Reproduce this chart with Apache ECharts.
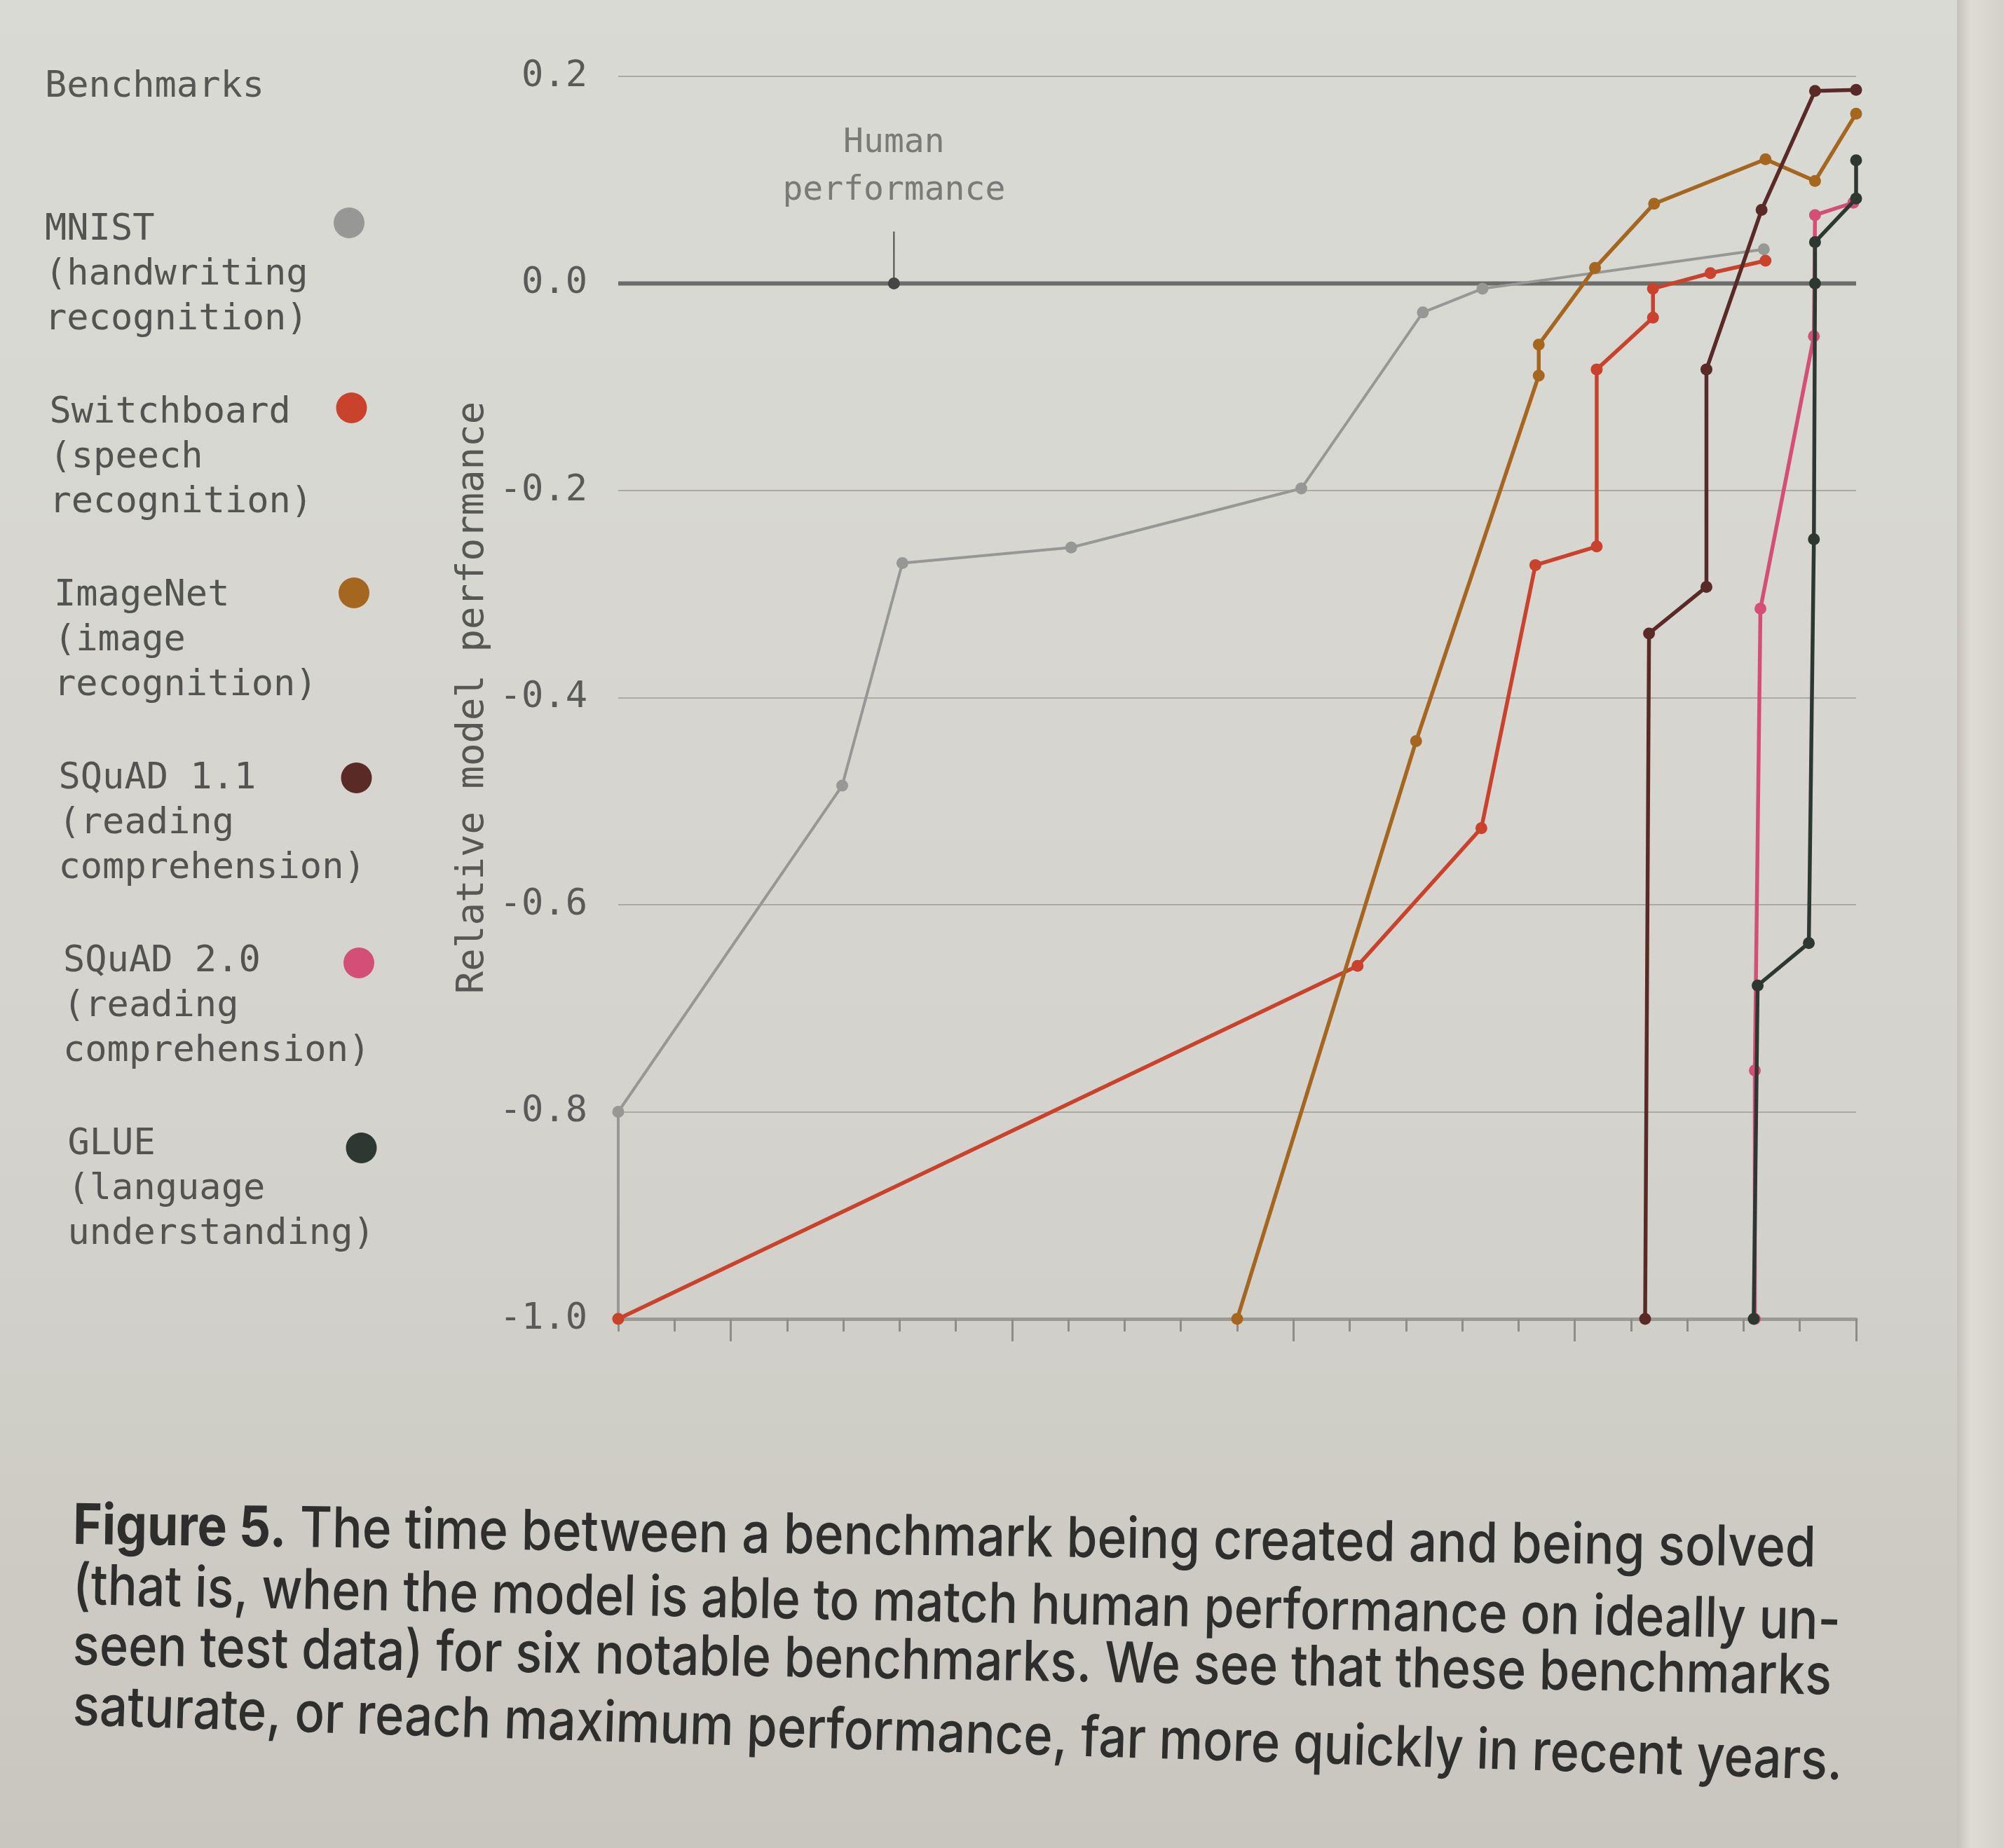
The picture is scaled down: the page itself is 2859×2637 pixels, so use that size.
<html>
<head>
    <meta charset="utf-8">
    <script src="https://cdn.jsdelivr.net/npm/echarts@6/dist/echarts.min.js"></script>
    <style>
        html, body, #main {
            width: 100%;
            height: 100%;
            margin: 0;
        }
        body {
            background: #d6d5cf;
        }
    </style>
</head>
<body>
<div id="main"></div>
<script>
    // ---- data (x = year, y = relative model performance) ----
    var mnistX = [1998, 1998, 2001.98, 2003.05, 2006.05, 2010.14, 2012.3, 2013.36, 2018.36];
    var mnistY = [-1.0, -0.8, -0.485, -0.27, -0.255, -0.198, -0.028, -0.005, 0.033];

    var switchboardX = [1998, 2011.14, 2013.34, 2014.3, 2015.39, 2015.39, 2016.39, 2016.39, 2017.41, 2018.39];
    var switchboardY = [-1.0, -0.659, -0.526, -0.272, -0.254, -0.083, -0.033, -0.005, 0.010, 0.022];

    var imagenetX = [2009.0, 2012.18, 2014.36, 2014.36, 2015.36, 2016.41, 2018.39, 2019.27, 2020];
    var imagenetY = [-1.0, -0.442, -0.089, -0.059, 0.015, 0.077, 0.12, 0.099, 0.164];

    var squad11X = [2016.25, 2016.32, 2017.34, 2017.34, 2018.32, 2019.27, 2020];
    var squad11Y = [-1.0, -0.338, -0.293, -0.083, 0.071, 0.186, 0.187];

    var squad20X = [2018.2, 2018.2, 2018.3, 2019.25, 2019.27, 2019.95];
    var squad20Y = [-1.0, -0.76, -0.314, -0.051, 0.066, 0.078];

    var glueX = [2018.18, 2018.25, 2019.16, 2019.25, 2019.27, 2019.27, 2020, 2020];
    var glueY = [-1.0, -0.678, -0.637, -0.247, 0.0, 0.04, 0.082, 0.119];

    var humanX = [1998, 2020];
    var humanY = [0, 0];
    var humanMarkYear = 2002.9;

    var benchNames = ['MNIST', 'Switchboard', 'ImageNet', 'SQuAD 1.1', 'SQuAD 2.0', 'GLUE'];
    var benchTasks = ['(handwriting\nrecognition)', '(speech\nrecognition)', '(image\nrecognition)',
        '(reading\ncomprehension)', '(reading\ncomprehension)', '(language\nunderstanding)'];
    var benchColors = ['#979795', '#c8422c', '#a5661f', '#5a2b26', '#d34f78', '#2e3833'];

    var yMin = -1.0, yMax = 0.2, yStep = 0.2;
    var xMin = 1998, xMax = 2020;
    var majorYearTicks = [2000, 2005, 2010, 2015, 2020];

    var captionLines = [
        '{b|Figure 5.} The time between a benchmark being created and being solved',
        '(that is, when the model is able to match human performance on ideally un-',
        'seen test data) for six notable benchmarks. We see that these benchmarks',
        'saturate, or reach maximum performance, far more quickly in recent years.'
    ];

    function zip(xs, ys) {
        var out = [];
        for (var i = 0; i < xs.length; i++) out.push([xs[i], ys[i]]);
        return out;
    }

    var MONO = '"DejaVu Sans Mono", "Liberation Mono", monospace';
    var chart = echarts.init(document.getElementById('main'));

    var seriesData = [zip(mnistX, mnistY), zip(switchboardX, switchboardY), zip(imagenetX, imagenetY),
        zip(squad11X, squad11Y), zip(squad20X, squad20Y), zip(glueX, glueY)];

    var series = [{
        name: 'Human performance',
        type: 'line',
        data: zip(humanX, humanY),
        showSymbol: false,
        lineStyle: {color: '#6c6c6a', width: 6},
        z: 2,
        silent: true
    }, {
        // small stem + marker for the human performance annotation
        name: 'human-stem',
        type: 'line',
        data: [
            {value: [humanMarkYear, 0.05], symbolSize: 1},
            {value: [humanMarkYear, 0], symbolSize: 17}
        ],
        symbol: 'circle',
        showSymbol: true,
        itemStyle: {color: '#454545'},
        lineStyle: {color: '#4a4a4a', width: 2},
        label: {
            show: true,
            position: 'top',
            distance: 24,
            formatter: function (p) {
                return p.dataIndex === 0 ? 'Human\nperformance' : '';
            },
            fontFamily: MONO,
            fontSize: 48,
            lineHeight: 68,
            color: '#7a7a78'
        },
        z: 3
    }];

    for (var i = 0; i < benchNames.length; i++) {
        series.push({
            name: benchNames[i],
            type: 'line',
            data: seriesData[i],
            symbol: 'circle',
            symbolSize: 17,
            showAllSymbol: true,
            itemStyle: {color: benchColors[i]},
            lineStyle: {color: benchColors[i], width: i === 0 ? 4 : 5.5},
            z: 4 + i
        });
    }

    // legend drawn as text blocks with a dot on the right
    var graphics = [{
        type: 'text',
        x: 64, y: 124,
        style: {text: 'Benchmarks', font: '52px ' + MONO, fill: '#575755', verticalAlign: 'middle'}
    }];
    for (var k = 0; k < benchNames.length; k++) {
        graphics.push({
            type: 'text',
            x: 64 + k * 6.5,
            y: 296 + k * 261,
            style: {
                text: benchNames[k] + '\n' + benchTasks[k],
                font: '52px ' + MONO,
                lineHeight: 64,
                fill: '#535351',
                verticalAlign: 'top'
            }
        });
        graphics.push({
            type: 'circle',
            shape: {cx: 498 + k * 3.5, cy: 318 + k * 264, r: 22},
            style: {fill: benchColors[k]}
        });
    }

    var capRot = [-0.013, -0.02, -0.017, -0.031];
    var capScale = [0.89, 0.875, 0.878, 0.882];
    for (var c = 0; c < captionLines.length; c++) {
        graphics.push({
            type: 'text',
            x: 104,
            y: 2179 + c * 86,
            rotation: capRot[c],
            scaleX: capScale[c],
            style: {
                text: captionLines[c],
                fontFamily: 'Inter, Roboto, sans-serif',
                fontSize: 80,
                fontWeight: 500,
                fill: '#2e2e2d',
                verticalAlign: 'middle',
                rich: {
                    b: {fontFamily: 'Inter, Roboto, sans-serif', fontSize: 80, fontWeight: 700, fill: '#2e2e2d'}
                }
            }
        });
    }
    // page edge on the right
    graphics.push({
        type: 'rect',
        shape: {x: 2792, y: 0, width: 67, height: 2637},
        style: {
            fill: new echarts.graphic.LinearGradient(0, 0, 1, 0, [
                {offset: 0, color: '#c4c2ba'},
                {offset: 0.3, color: '#dedcd4'},
                {offset: 1, color: '#d2d0c8'}
            ])
        },
        z: -1
    });

    var option = {
        backgroundColor: new echarts.graphic.LinearGradient(0, 0, 0, 1, [
            {offset: 0, color: '#dadad5'},
            {offset: 0.6, color: '#d4d3cd'},
            {offset: 1, color: '#c8c6be'}
        ]),
        animation: false,
        grid: {left: 882, right: 211, top: 109, bottom: 755},
        xAxis: [{
            type: 'value',
            position: 'bottom',
            min: xMin,
            max: xMax,
            interval: 1,
            axisLine: {show: true, onZero: false, lineStyle: {color: '#9a9a96', width: 5}},
            axisTick: {show: true, length: 18, lineStyle: {color: '#8d8d89', width: 3}},
            axisLabel: {show: false},
            splitLine: {show: false}
        }, {
            type: 'value',
            position: 'bottom',
            min: xMin,
            max: xMax,
            axisLine: {show: false, onZero: false},
            axisTick: {show: true, length: 32, customValues: majorYearTicks, lineStyle: {color: '#8d8d89', width: 3}},
            axisLabel: {show: false},
            splitLine: {show: false}
        }],
        yAxis: {
            type: 'value',
            min: yMin,
            max: yMax,
            interval: yStep,
            name: 'Relative model performance',
            nameLocation: 'middle',
            nameGap: 178,
            nameTextStyle: {fontFamily: MONO, fontSize: 54, color: '#575755'},
            axisLine: {show: false},
            axisTick: {show: false},
            axisLabel: {
                margin: 44,
                fontFamily: MONO,
                fontSize: 52,
                color: '#5a5a58',
                formatter: function (v) {
                    return v.toFixed(1);
                }
            },
            splitLine: {lineStyle: {color: '#aaa9a4', width: 2}}
        },
        graphic: graphics,
        series: series
    };

    chart.setOption(option);
</script>
</body>
</html>
